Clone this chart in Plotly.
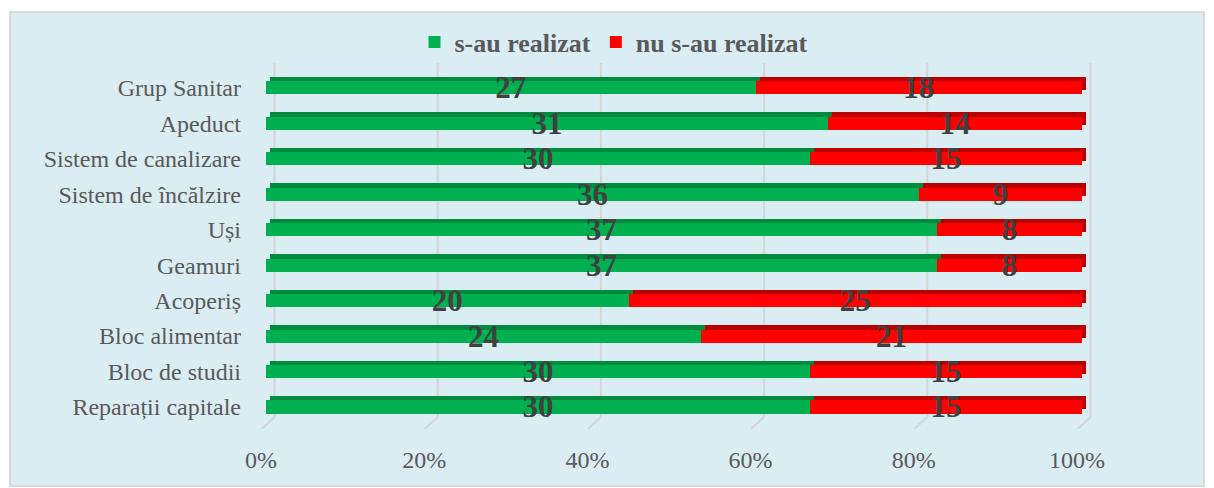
import plotly.graph_objects as go

categories = ["Reparații capitale", "Bloc de studii", "Bloc alimentar", "Acoperiș",
              "Geamuri", "Uși", "Sistem de încălzire", "Sistem de canalizare",
              "Apeduct", "Grup Sanitar"]
realizat = [30, 30, 24, 20, 37, 37, 36, 30, 31, 27]
nerealizat = [15, 15, 21, 25, 8, 8, 9, 15, 14, 18]
series_names = ["s-au realizat", "nu s-au realizat"]
x_ticks = [0, 20, 40, 60, 80, 100]
x_tick_labels = ["0%", "20%", "40%", "60%", "80%", "100%"]

GREEN = "#00B050"
GREEN_DARK = "#008A3E"
RED = "#FF0000"
RED_DARK = "#BA0000"
TXT = "#595959"
SERIF = "Liberation Serif"

W, H = 1214, 488
ML, MR, MT, MB = 250, 114, 55, 53
PW, PH = W - ML - MR, H - MT - MB
PX_X = 8.16      # px per percent unit
PX_Y = 35.45     # px per category
XR = [-(266 - ML) / PX_X, -(266 - ML) / PX_X + PW / PX_X]
YR = [-0.79, -0.79 + PH / PX_Y]
DX = 4 / PX_X
DY = 4.5 / PX_Y
BW = 0.367


def px_x(p):
    return (p - ML) / PW


def px_y(p):
    return (H - MB - p) / PH


fig = go.Figure()

# back (darker) faces on main axes, shifted up-right
fig.add_trace(go.Bar(y=categories, x=realizat, orientation="h", width=BW,
                     marker=dict(color=GREEN_DARK, line=dict(width=0)),
                     showlegend=False, hoverinfo="skip", xaxis="x", yaxis="y"))
fig.add_trace(go.Bar(y=categories, x=nerealizat, orientation="h", width=BW,
                     marker=dict(color=RED_DARK, line=dict(width=0)),
                     showlegend=False, hoverinfo="skip", xaxis="x", yaxis="y"))

label_font = dict(family=SERIF, size=31, color="#404040", weight="bold")
# front faces
fig.add_trace(go.Bar(y=categories, x=realizat, orientation="h", width=BW,
                     name="<b>" + series_names[0] + "</b>",
                     marker=dict(color=GREEN, line=dict(width=0)),
                     text=realizat, textposition="inside", insidetextanchor="middle",
                     constraintext="none", textangle=0, textfont=label_font,
                     cliponaxis=False, xaxis="x2", yaxis="y2"))
fig.add_trace(go.Bar(y=categories, x=nerealizat, orientation="h", width=BW,
                     name="<b>" + series_names[1] + "</b>",
                     marker=dict(color=RED, line=dict(width=0)),
                     text=nerealizat, textposition="inside", insidetextanchor="middle",
                     constraintext="none", textangle=0, textfont=label_font,
                     cliponaxis=False, xaxis="x2", yaxis="y2"))

shapes = [dict(type="rect", xref="paper", yref="paper",
               x0=px_x(10), x1=px_x(1204), y0=px_y(486), y1=px_y(12),
               fillcolor="#DAEDF3", line=dict(color="#D9D9D9", width=2), layer="below")]
g_off = 8.5 / PX_X
y_top = 9 + (86 - 61) / PX_Y
y_mid = -(415 - 405) / PX_Y
y_bot = -(427 - 405) / PX_Y
diag = 13 / PX_X
for v in x_ticks:
    xv = v + g_off
    shapes.append(dict(type="path", xref="x2", yref="y2", layer="below",
                       path=f"M{xv},{y_top} L{xv},{y_mid} L{xv - diag},{y_bot}",
                       line=dict(color="#D5D5D5", width=2)))

fig.update_layout(
    width=W, height=H,
    margin=dict(l=ML, r=MR, t=MT, b=MB, autoexpand=False),
    paper_bgcolor="white", plot_bgcolor="rgba(0,0,0,0)",
    barmode="stack", barnorm="percent", bargap=0.6,
    shapes=shapes,
    xaxis=dict(range=[XR[0] - DX, XR[1] - DX], showticklabels=False, showgrid=False,
               zeroline=False, showline=False, automargin=False),
    yaxis=dict(type="category", categoryorder="array", categoryarray=categories,
               range=[YR[0] - DY, YR[1] - DY], showticklabels=False, showgrid=False,
               zeroline=False, showline=False, automargin=False),
    xaxis2=dict(overlaying="x", range=XR, tickvals=x_ticks, ticktext=x_tick_labels,
                showgrid=False, zeroline=False, showline=False, side="bottom",
                ticks="", ticklabelshift=-5, ticklabelstandoff=8, automargin=False,
                tickfont=dict(family=SERIF, size=24, color=TXT)),
    yaxis2=dict(overlaying="y", type="category", categoryorder="array",
                categoryarray=categories, range=YR, side="left",
                showgrid=False, zeroline=False, showline=False, ticks="",
                ticklabelstandoff=8, automargin=False,
                tickfont=dict(family=SERIF, size=24, color=TXT)),
    legend=dict(orientation="h", x=px_x(614), xanchor="center", y=px_y(42),
                yanchor="middle", bgcolor="rgba(0,0,0,0)", itemwidth=30,
                font=dict(family=SERIF, size=26, color=TXT),
                traceorder="normal"),
    showlegend=True,
)

fig.write_html("out.html", config={"displayModeBar": False},
               post_script="document.body.style.margin='0';document.body.style.overflow='hidden';")
